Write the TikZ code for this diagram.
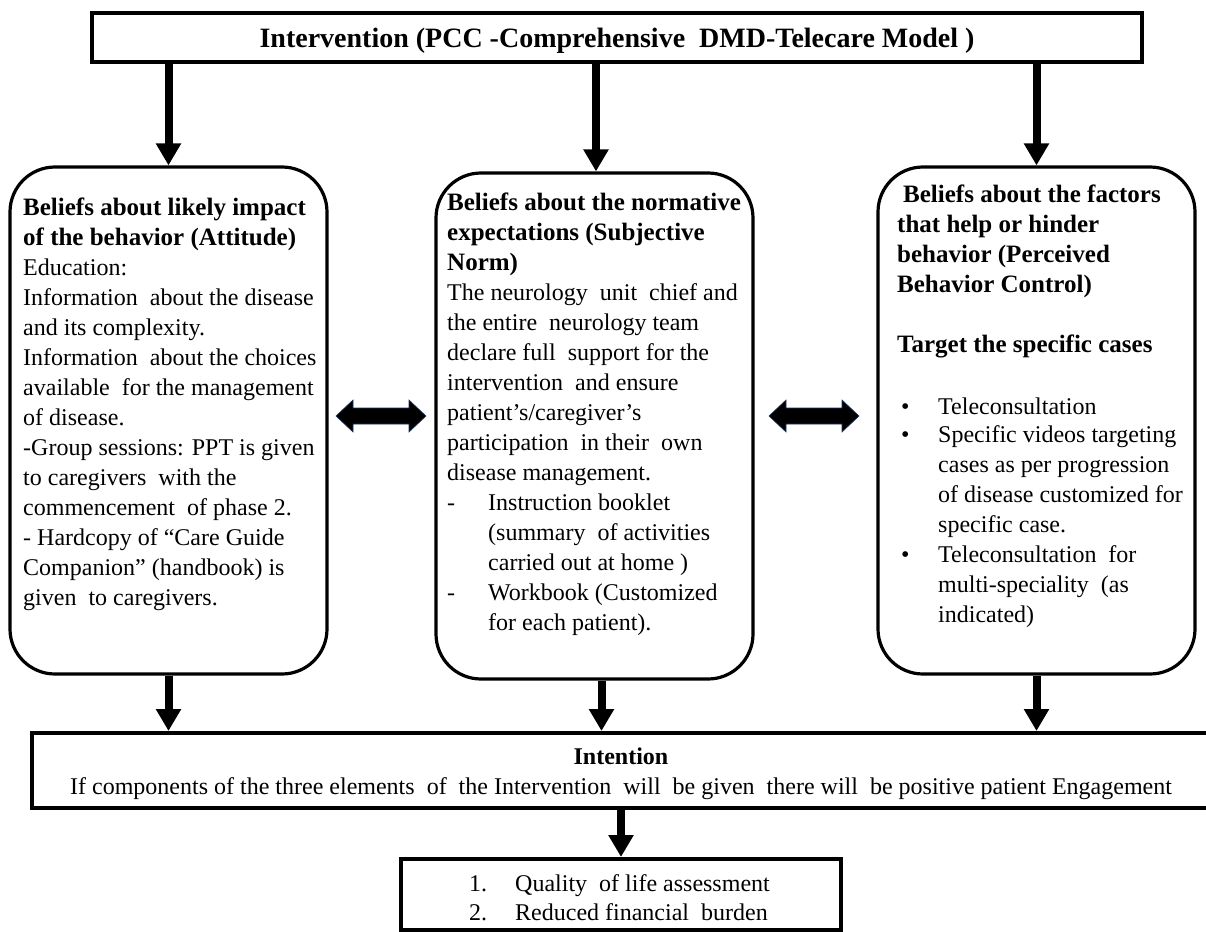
\documentclass[tikz,border=0pt]{standalone}
\usepackage{fontspec}
\setmainfont{Liberation Serif}
\usetikzlibrary{arrows.meta,calc}
\definecolor{navy}{RGB}{31,56,100}
\newcommand\bodyfont{\fontsize{24bp}{30bp}\selectfont}
\newcommand\hd[1]{{\fontsize{25bp}{30bp}\selectfont\bfseries #1}}
\begin{document}
\begin{tikzpicture}[x=1bp,y=-1bp,
  sqbox/.style={draw, line width=4bp, rectangle, inner sep=0pt},
  rbox/.style={draw, line width=3.2bp, rectangle, rounded corners=45bp, inner sep=0pt, minimum width=317bp},
  txt/.style={anchor=base west, inner sep=0pt, font=\bodyfont},
  ctxt/.style={anchor=base, inner sep=0pt},
  downarrow/.style={line width=8bp, -{Triangle[length=22bp,width=24bp]}},
  dbl/.style={fill=black, draw=navy, line width=0.6bp, line join=miter}
]
\fill[white] (0,0) rectangle (1206,932);
\useasboundingbox (0,0) rectangle (1206,932);

% top box
\node[sqbox, minimum width=1050bp, minimum height=49bp] (top) at (617,37.5) {};
\node[ctxt, font=\fontsize{28bp}{30bp}\selectfont\bfseries] (toptext) at (617,47.5)
  {Intervention (PCC -Comprehensive \ DMD-Telecare Model )};

% three rounded boxes
\node[rbox, minimum height=507bp] (L) at (168.5,420.5) {};
\node[rbox, minimum height=506bp] (M) at (594.5,426) {};
\node[rbox, minimum height=507bp] (R) at (1036.5,420.5) {};

\node[txt] (Lt) at (23,215) {\parbox[t]{330bp}{\raggedright
\hd{Beliefs about likely impact}\\
\hd{of the behavior (Attitude)}\\
Education:\\
Information\ \ about the disease\\
and its complexity.\\
Information\ \ about the choices\\
available\ \ for the management\\
of disease.\\
-Group sessions: PPT is given\\
to caregivers\ \ with the\\
commencement\ \ of phase 2.\\
- Hardcopy of “Care Guide\\
Companion” (handbook) is\\
given\ \ to caregivers.}};

\node[txt] (Mt) at (447,210) {\parbox[t]{330bp}{\raggedright
\hd{Beliefs about the normative}\\
\hd{expectations (Subjective}\\
\hd{Norm)}\\
The neurology\ \ unit\ \ chief and\\
the entire\ \ neurology team\\
declare full\ \ support for the\\
intervention\ \ and ensure\\
patient’s/caregiver’s\\
participation\ \ in their\ \ own\\
disease management.\\
\makebox[41bp][l]{-}Instruction booklet\\
\hspace*{41bp}(summary\ \ of activities\\
\hspace*{41bp}carried out at home )\\
\makebox[41bp][l]{-}Workbook (Customized\\
\hspace*{41bp}for each patient).}};

\node[txt] (Rt) at (897,202) {\parbox[t]{330bp}{\raggedright
\hd{\hspace*{6bp}Beliefs about the factors}\\
\hd{that help or hinder}\\
\hd{behavior (Perceived}\\
\hd{Behavior Control)}\\
\mbox{}\\
\hd{Target the specific cases}\\
\mbox{}\\[2bp]
\hspace*{4bp}\makebox[37bp][l]{•}Teleconsultation\\[-2bp]
\hspace*{4bp}\makebox[37bp][l]{•}Specific videos targeting\\
\hspace*{41bp}cases as per progression\\
\hspace*{41bp}of disease customized for\\
\hspace*{41bp}specific case.\\
\hspace*{4bp}\makebox[37bp][l]{•}Teleconsultation\ \ for\\
\hspace*{41bp}multi-speciality\ \ (as\\
\hspace*{41bp}indicated)}};

% arrows from top box
\draw[downarrow] (L.north |- top.south) -- (L.north);
\draw[downarrow] ([xshift=1.5bp]M.north |- top.south) -- ([xshift=1.5bp]M.north);
\draw[downarrow] (R.north |- top.south) -- (R.north);

% double arrows between boxes
\coordinate (dA) at (381,416);
\coordinate (dB) at (814,416);
\draw[dbl] ($(dA)+(-45,0)$) -- ++(17,-16) -- ++(0,8) -- ++(56,0) -- ++(0,-8) -- ++(17,16)
  -- ++(-17,16) -- ++(0,-8) -- ++(-56,0) -- ++(0,8) -- cycle;
\draw[dbl] ($(dB)+(-45,0)$) -- ++(17,-16) -- ++(0,8) -- ++(56,0) -- ++(0,-8) -- ++(17,16)
  -- ++(-17,16) -- ++(0,-8) -- ++(-56,0) -- ++(0,8) -- cycle;

% intention box
\node[sqbox, minimum width=1190bp, minimum height=75bp] (int) at (627,770.5) {};
\node[ctxt, font=\fontsize{24bp}{28bp}\selectfont\bfseries] (intt) at (621,764) {Intention};
\node[ctxt, font=\fontsize{24bp}{28bp}\selectfont] (ints) at (621,794)
  {If components of the three elements\ \ of\ \ the Intervention\ \ will\ \ be given\ \ there will\ \ be positive patient Engagement};

\draw[downarrow] (L.south) -- (L.south |- int.north);
\draw[downarrow] ([xshift=7bp]M.south) -- ([xshift=7bp]M.south |- int.north);
\draw[downarrow] (R.south) -- (R.south |- int.north);

% outcome box
\node[sqbox, minimum width=440bp, minimum height=71bp] (out) at (621,894.5) {};
\node[txt, font=\fontsize{24bp}{30bp}\selectfont] (o1) at (469,891) {\makebox[46bp][l]{1.}Quality\ \ of life assessment};
\node[txt, font=\fontsize{24bp}{30bp}\selectfont] (o2) at (469,920) {\makebox[46bp][l]{2.}Reduced financial\ \ burden};
\draw[downarrow] (int.south -| out.north) -- (out.north);
\end{tikzpicture}
\end{document}
